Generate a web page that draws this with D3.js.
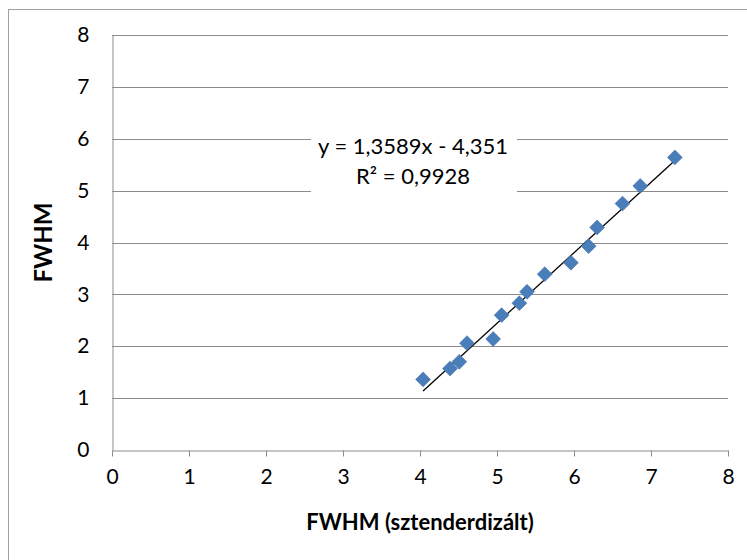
<!DOCTYPE html>
<html>
<head>
<meta charset="utf-8">
<script src="https://cdn.jsdelivr.net/npm/d3@7"></script>
<style>
	body { margin: 0; background: #fff; }
	svg { display: block; font-family: Lato, "Open Sans", sans-serif; }
</style>
</head>
<body>
<div id="chart"></div>
<script>
// measured points (x: standardised FWHM, y: FWHM)
const xValues = [4.04, 4.39, 4.51, 4.61, 4.95, 5.06, 5.29, 5.39, 5.62, 5.96, 6.19, 6.30, 6.63, 6.86, 7.31];
const yValues = [1.36, 1.57, 1.70, 2.06, 2.14, 2.60, 2.83, 3.05, 3.39, 3.61, 3.93, 4.29, 4.75, 5.09, 5.64];
const xTicks = [0, 1, 2, 3, 4, 5, 6, 7, 8];
const yTicks = [0, 1, 2, 3, 4, 5, 6, 7, 8];
const slope = 1.3589;
const intercept = -4.351;
const eqLabel = "y = 1,3589x - 4,351";
const r2Label = "R² = 0,9928";
const xTitle = "FWHM (sztenderdizált)";
const yTitle = "FWHM";

const width = 747, height = 560;
const margin = { left: 112, right: 19, top: 35, bottom: 110 };

const svg = d3.select("#chart").append("svg")
	.attr("width", width)
	.attr("height", height);

// outer chart frame
svg.append("rect")
	.attr("x", 8.5).attr("y", 9.5)
	.attr("width", width).attr("height", height)
	.attr("fill", "none").attr("stroke", "#a0a0a0").attr("stroke-width", 1);

const x = d3.scaleLinear().domain([0, 8]).range([margin.left, width - margin.right]);
const y = d3.scaleLinear().domain([0, 8]).range([height - margin.bottom, margin.top]);

// gridlines
svg.append("g")
	.selectAll("line")
	.data(yTicks.filter((d) => d > 0))
	.enter()
	.append("line")
	.attr("x1", x(0)).attr("x2", x(8))
	.attr("y1", (d) => Math.round(y(d)) + 0.5)
	.attr("y2", (d) => Math.round(y(d)) + 0.5)
	.attr("stroke", "#8c8c8c").attr("stroke-width", 1);

// y axis
const yAxis = svg.append("g")
	.attr("transform", `translate(${Math.round(x(0)) + 0.5},0)`)
	.call(d3.axisLeft(y).tickValues(yTicks).tickSize(0).tickPadding(23).tickFormat(d3.format("d")));
yAxis.select(".domain").attr("stroke", "#8c8c8c");
yAxis.selectAll("text").attr("font-size", 21).attr("fill", "#000").attr("font-family", "Lato, sans-serif");

// x axis
const xAxis = svg.append("g")
	.attr("transform", `translate(0,${Math.round(y(0)) + 0.5})`)
	.call(d3.axisBottom(x).tickValues(xTicks).tickSizeOuter(0).tickSizeInner(6).tickPadding(13).tickFormat(d3.format("d")));
xAxis.select(".domain").attr("stroke", "#8c8c8c");
xAxis.selectAll(".tick line").attr("stroke", "#8c8c8c");
xAxis.selectAll("text").attr("font-size", 21).attr("fill", "#000").attr("font-family", "Lato, sans-serif");

// trendline over the data range
const xMin = d3.min(xValues), xMax = d3.max(xValues);
svg.append("line")
	.attr("x1", x(xMin)).attr("y1", y(slope * xMin + intercept))
	.attr("x2", x(xMax)).attr("y2", y(slope * xMax + intercept))
	.attr("stroke", "#000").attr("stroke-width", 1.3);

// points
const points = xValues.map((v, i) => ({ x: v, y: yValues[i] }));
svg.append("g")
	.selectAll("path")
	.data(points)
	.enter()
	.append("path")
	.attr("d", d3.symbol(d3.symbolSquare, 110))
	.attr("transform", (d) => `translate(${x(d.x)},${y(d.y)}) rotate(45)`)
	.attr("fill", "#4a7ebb")
	.attr("stroke", "#4572a7").attr("stroke-width", 0.6);

// equation label with white box
const lab = svg.append("g");
lab.append("rect")
	.attr("x", 311).attr("y", 129)
	.attr("width", 206).attr("height", 66)
	.attr("fill", "#fff");
lab.append("text")
	.attr("x", 413).attr("y", 154)
	.attr("text-anchor", "middle")
	.attr("font-size", 22)
	.text(eqLabel);
lab.append("text")
	.attr("x", 413).attr("y", 184)
	.attr("text-anchor", "middle")
	.attr("font-size", 22)
	.text(r2Label);

// axis titles
svg.append("text")
	.attr("x", (x(0) + x(8)) / 2).attr("y", 530)
	.attr("text-anchor", "middle")
	.attr("font-size", 22).attr("font-weight", "bold")
	.text(xTitle);

svg.append("text")
	.attr("transform", `translate(52,${y(4)}) rotate(-90)`)
	.attr("text-anchor", "middle")
	.attr("font-size", 24).attr("font-weight", "bold")
	.text(yTitle);
</script>
</body>
</html>
